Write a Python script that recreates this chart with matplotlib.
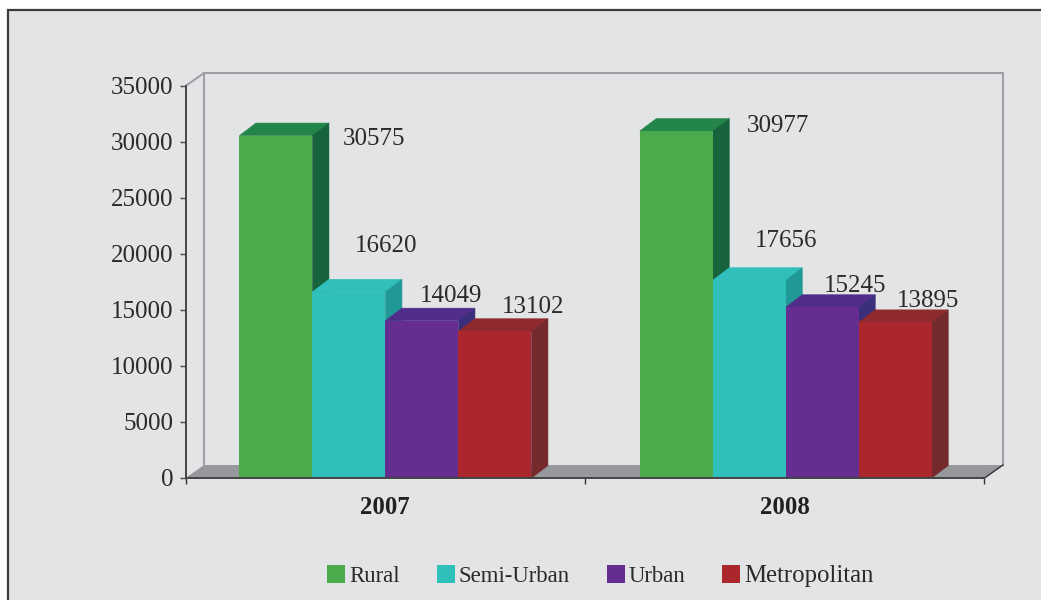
import matplotlib.pyplot as plt
from matplotlib.patches import Rectangle

years = ["2007", "2008"]
series = ["Rural", "Semi-Urban", "Urban", "Metropolitan"]
rural = [30575, 30977]
semi_urban = [16620, 17656]
urban = [14049, 15245]
metropolitan = [13102, 13895]
yticks = [0, 5000, 10000, 15000, 20000, 25000, 30000, 35000]

front = ["#4aaa4c", "#2fc0bb", "#652d90", "#ac272d"]
top = ["#24854a", "#31bfbc", "#512d8b", "#8f2a2e"]
side = ["#16633c", "#1f9896", "#3b2e7a", "#742a2c"]
bg = "#e3e4e6"

# label offsets from the top centre of each bar, in pixels
label_off = [[(98, -3), (37, 45.5), (29.5, 25), (38.5, 24.5)],
             [(101.5, 5.5), (37, 39.5), (33, 21.5), (33, 21.5)]]

W, H = 1041, 600
plt.rcParams["font.family"] = ["Liberation Serif", "DejaVu Serif"]
fig = plt.figure(figsize=(W / 100, H / 100), dpi=100, facecolor="white")

# panel behind the chart, runs off the right and bottom edges
fig.add_artist(Rectangle((8 / W, -0.1), 1.1, 1 - 10 / H + 0.1, transform=fig.transFigure,
                         facecolor=bg, edgecolor="#3c3c3c", linewidth=1.6, zorder=-1))

ax = fig.add_axes([185.5 / W, 1 - 478 / H, 799 / W, 392 / H])
ax.patch.set_visible(False)
ax.set_xlim(0, 2)
ax.set_ylim(0, 35000)

px_x = 2 / 799
px_y = 35000 / 392


def px(dx, dy):
    return dx * px_x, dy * px_y


# back wall and floor
wx, wy = px(18.5, 13)
wall = "#a0a1a4"
ax.fill([0, wx, 2 + wx, 2], [0, wy, wy, 0], color="#97989b", lw=0, clip_on=False)
ax.plot([0, wx, wx], [35000, 35000 + wy, wy], color=wall, lw=1.5, clip_on=False, solid_joinstyle="miter")
ax.plot([wx, 2 + wx, 2 + wx], [35000 + wy, 35000 + wy, wy], color=wall, lw=1.5, clip_on=False,
        solid_joinstyle="miter")
ax.plot([2, 2 + wx], [0, wy], color="#333333", lw=1, clip_on=False)

# bars, left to right so each one hides the side of the previous one
values = [rural, semi_urban, urban, metropolitan]
group_x = [0.5005, 1.5025]
bw = 73 * px_x
dx, dy = px(16.5, 12.5)
for g in range(len(years)):
    for s in range(len(series)):
        v = values[s][g]
        left = group_x[g] + (s - 2) * bw
        right = left + bw
        ax.fill([left, left + dx, right + dx, right], [v, v + dy, v + dy, v], color=top[s], lw=0.4, clip_on=False)
        ax.fill([right, right + dx, right + dx, right], [0, dy, v + dy, v], color=side[s], lw=0.4, clip_on=False)
        ax.bar(left, v, width=bw, align="edge", color=front[s], label=series[s] if g == 0 else None)
        ax.annotate(str(v), (left + bw / 2, v), xytext=(label_off[g][s][0] * 0.72, label_off[g][s][1] * 0.72),
                    textcoords="offset points", ha="center", va="center", fontsize=18,
                    color="#2b2a29", annotation_clip=False)

for name in ["top", "right"]:
    ax.spines[name].set_visible(False)
for name in ["left", "bottom"]:
    ax.spines[name].set_color("#444444")
    ax.spines[name].set_linewidth(1.4)

ax.set_yticks(yticks)
ax.tick_params(axis="y", length=4.5, width=1, color="#444444", labelsize=18, labelcolor="#2b2a29", pad=4)
ax.set_xticks([0, 1, 2])
ax.set_xticklabels([])
ax.tick_params(axis="x", which="major", length=4.5, width=1, color="#333333")
ax.set_xticks([0.5, 1.5], minor=True)
ax.set_xticklabels(years, minor=True, fontweight="bold", fontsize=17.8, color="#231f20")
ax.tick_params(axis="x", which="minor", length=0, pad=13)

leg = ax.legend(loc="center left", bbox_to_anchor=(141.5 / 799, -98 / 392), ncol=4, frameon=False,
                fontsize=16.4, labelcolor="#2b2a29", borderpad=0, borderaxespad=0,
                handlelength=0.79, handleheight=0.79, handletextpad=0.18, columnspacing=1.62)
leg.get_texts()[3].set_fontsize(17.8)

fig.savefig("out.png", dpi=100, facecolor="white")
